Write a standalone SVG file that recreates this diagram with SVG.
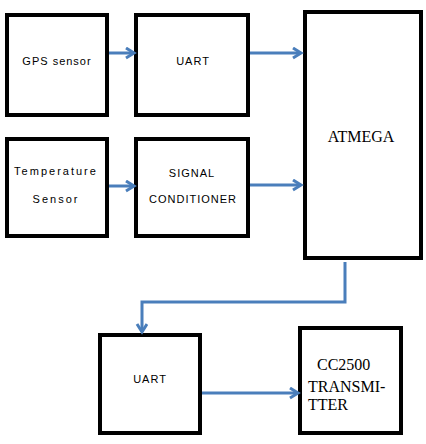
<svg xmlns="http://www.w3.org/2000/svg" width="426" height="444" viewBox="0 0 426 444">
<style>
.box{fill:#fff;stroke:#000;stroke-width:4}
.conn{fill:none;stroke:#4a7ebb;stroke-width:3}
.s{font-family:"Liberation Sans",Arial,sans-serif;font-size:11px;letter-spacing:1px;fill:#000;text-anchor:middle}
.w{letter-spacing:2px}
.t{font-family:"Liberation Serif","Times New Roman",serif;font-size:16px;fill:#000}
</style>
<defs>
<marker id="ah" markerUnits="userSpaceOnUse" markerWidth="12" markerHeight="14" refX="9" refY="6" orient="auto">
<path d="M1,1 L9,6 L1,11" fill="none" stroke="#4a7ebb" stroke-width="3"/>
</marker>
</defs>
<rect width="426" height="444" fill="#fff"/>
<g id="gps"><rect class="box" x="7" y="15" width="100" height="100"/><text class="s" x="57" y="65">GPS sensor</text></g>
<g id="uart1"><rect class="box" x="136" y="15" width="112" height="100"/><text class="s" x="193" y="65">UART</text></g>
<g id="temp"><rect class="box" x="7" y="139" width="100" height="97"/><text class="s w" x="56" y="175">Temperature</text><text class="s w" x="56" y="203">Sensor</text></g>
<g id="signal"><rect class="box" x="136" y="139" width="112" height="97"/><text class="s" x="192" y="177">SIGNAL</text><text class="s" x="193" y="203">CONDITIONER</text></g>
<g id="atmega"><rect class="box" x="305" y="12" width="116" height="246"/><text class="t" x="361" y="142" text-anchor="middle">ATMEGA</text></g>
<g id="uart2"><rect class="box" x="100" y="335" width="100" height="98"/><text class="s" x="150" y="383">UART</text></g>
<g id="cc2500"><rect class="box" x="300" y="328" width="101" height="105"/><text class="t" x="317" y="370">CC2500</text><text class="t" x="308" y="392">TRANSMI-</text><text class="t" x="308" y="410">TTER</text></g>
<g id="connectors">
<path class="conn" d="M109,53 H134" marker-end="url(#ah)"/>
<path class="conn" d="M109,186 H134" marker-end="url(#ah)"/>
<path class="conn" d="M250,53 H301" marker-end="url(#ah)"/>
<path class="conn" d="M250,185 H301" marker-end="url(#ah)"/>
<path class="conn" d="M345,262 V302 H142 V332" marker-end="url(#ah)"/>
<path class="conn" d="M202,393 H298" marker-end="url(#ah)"/>
</g>
</svg>
